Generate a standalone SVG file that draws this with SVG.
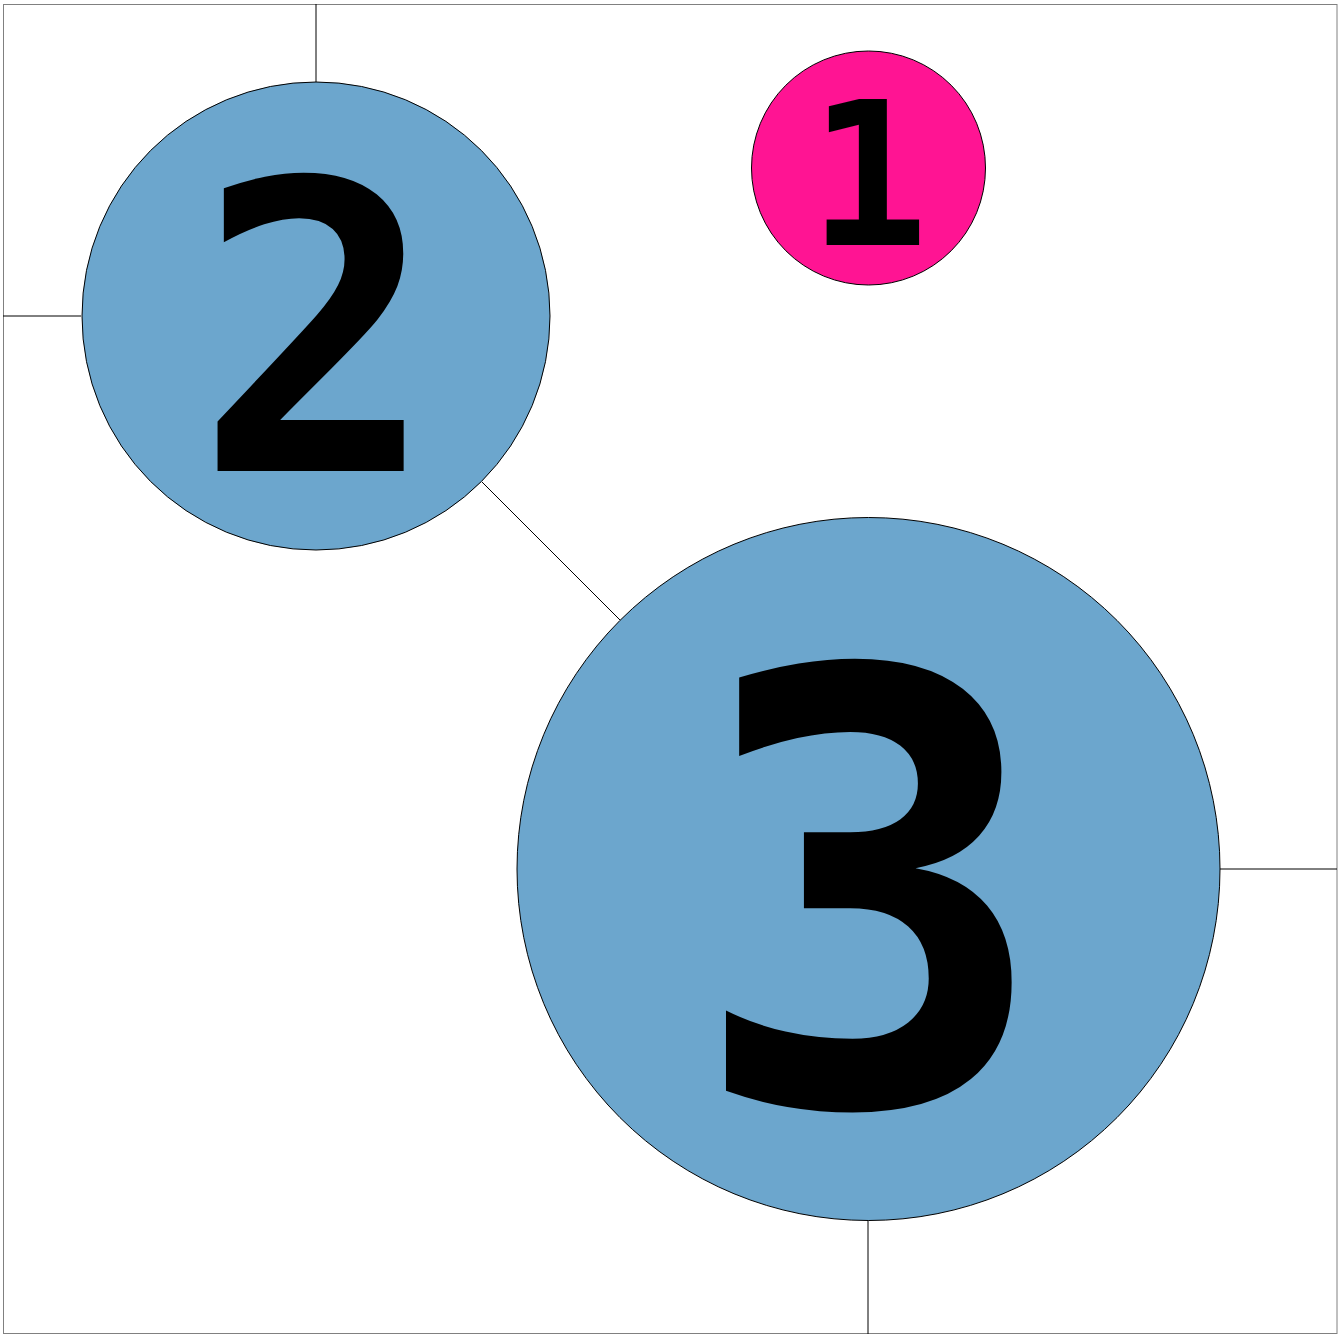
<svg xmlns="http://www.w3.org/2000/svg" width="1343" height="1335" viewBox="0 0 1343 1335">
<style>
.edge{stroke:#000;stroke-width:1;fill:none}
.node circle{stroke:#000;stroke-width:1}
.lbl{font-family:"DejaVu Sans Mono",monospace;font-weight:bold;text-anchor:middle;fill:#000}
</style>
<rect x="3.5" y="4.5" width="1333.5" height="1329" fill="#fff" stroke="#808080" stroke-width="1"/>
<g id="edges">
<line class="edge" x1="316" y1="4" x2="316" y2="82"/>
<line class="edge" x1="3" y1="316" x2="81" y2="316"/>
<line class="edge" x1="482" y1="482" x2="620" y2="620"/>
<line class="edge" x1="1220" y1="869" x2="1337" y2="869" stroke="#808080"/>
<line class="edge" x1="868" y1="1220" x2="868" y2="1334" stroke="#808080"/>
</g>
<g id="node1" class="node">
<circle cx="868.5" cy="168" r="117" fill="#FF1493"/>
<text class="lbl" x="868.5" y="245" font-size="200">1</text>
</g>
<g id="node2" class="node">
<circle cx="316" cy="316" r="234" fill="#6CA6CD"/>
<text class="lbl" x="316" y="471" font-size="402">2</text>
</g>
<g id="node3" class="node">
<circle cx="868.5" cy="869" r="351.5" fill="#6CA6CD"/>
<text class="lbl" x="870" y="1104" font-size="600">3</text>
</g>
</svg>
